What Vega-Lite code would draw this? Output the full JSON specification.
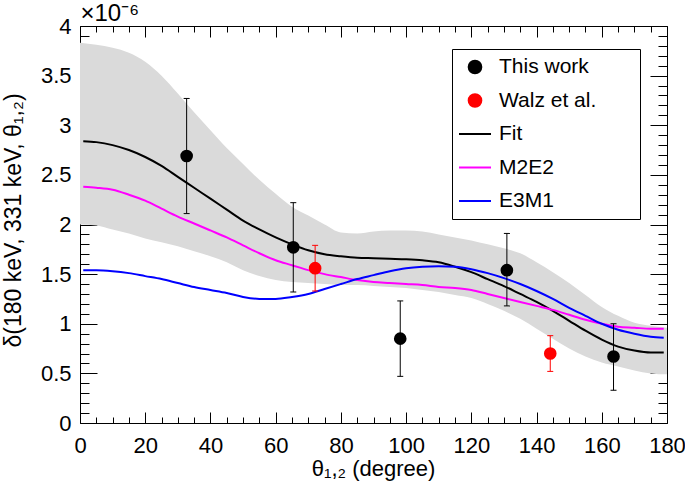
{
  "$schema": "https://vega.github.io/schema/vega-lite/v6.json",
  "width": 587,
  "height": 397,
  "autosize": {"type": "none"},
  "padding": {"left": 80, "top": 26, "right": 18, "bottom": 67},
  "background": "white",
  "config": {
    "view": {"stroke": "black", "strokeWidth": 1},
    "axis": {"domain": false, "grid": false, "tickColor": "black", "tickWidth": 1, "labelFont": "Liberation Sans", "labelFontSize": 22, "labelColor": "black", "titleFont": "Liberation Sans", "titleFontSize": 22, "titleFontWeight": "normal", "titleColor": "black", "labelFlush": false, "labelOverlap": false}
  },
  "datasets": {
    "band": [
      {"theta": 0, "lo": 2.00, "hi": 3.83}, {"theta": 5, "lo": 1.99, "hi": 3.81}, {"theta": 10, "lo": 1.95, "hi": 3.78},
      {"theta": 15, "lo": 1.91, "hi": 3.73}, {"theta": 20, "lo": 1.86, "hi": 3.64}, {"theta": 25, "lo": 1.82, "hi": 3.50},
      {"theta": 30, "lo": 1.78, "hi": 3.32}, {"theta": 35, "lo": 1.73, "hi": 3.13}, {"theta": 40, "lo": 1.68, "hi": 2.95},
      {"theta": 45, "lo": 1.62, "hi": 2.77}, {"theta": 50, "lo": 1.54, "hi": 2.61}, {"theta": 55, "lo": 1.48, "hi": 2.45},
      {"theta": 60, "lo": 1.44, "hi": 2.31}, {"theta": 65, "lo": 1.42, "hi": 2.18}, {"theta": 70, "lo": 1.41, "hi": 2.09},
      {"theta": 75, "lo": 1.40, "hi": 2.00}, {"theta": 80, "lo": 1.39, "hi": 1.92}, {"theta": 85, "lo": 1.39, "hi": 1.91},
      {"theta": 90, "lo": 1.38, "hi": 1.93}, {"theta": 95, "lo": 1.37, "hi": 1.94}, {"theta": 100, "lo": 1.36, "hi": 1.94},
      {"theta": 105, "lo": 1.34, "hi": 1.93}, {"theta": 110, "lo": 1.32, "hi": 1.90}, {"theta": 115, "lo": 1.29, "hi": 1.87},
      {"theta": 120, "lo": 1.26, "hi": 1.84}, {"theta": 125, "lo": 1.20, "hi": 1.80}, {"theta": 130, "lo": 1.13, "hi": 1.76},
      {"theta": 135, "lo": 1.05, "hi": 1.71}, {"theta": 140, "lo": 0.95, "hi": 1.62}, {"theta": 145, "lo": 0.85, "hi": 1.52},
      {"theta": 150, "lo": 0.75, "hi": 1.41}, {"theta": 155, "lo": 0.67, "hi": 1.29}, {"theta": 160, "lo": 0.61, "hi": 1.17},
      {"theta": 165, "lo": 0.57, "hi": 1.08}, {"theta": 170, "lo": 0.53, "hi": 1.01}, {"theta": 175, "lo": 0.50, "hi": 0.98},
      {"theta": 180, "lo": 0.49, "hi": 0.96}
    ],
    "curves": [
      {"series": "Fit", "theta": 1, "val": 2.84}, {"series": "Fit", "theta": 5, "val": 2.83}, {"series": "Fit", "theta": 10, "val": 2.80},
      {"series": "Fit", "theta": 15, "val": 2.75}, {"series": "Fit", "theta": 20, "val": 2.68}, {"series": "Fit", "theta": 25, "val": 2.59},
      {"series": "Fit", "theta": 30, "val": 2.48}, {"series": "Fit", "theta": 35, "val": 2.37}, {"series": "Fit", "theta": 40, "val": 2.26},
      {"series": "Fit", "theta": 45, "val": 2.15}, {"series": "Fit", "theta": 50, "val": 2.04}, {"series": "Fit", "theta": 55, "val": 1.95},
      {"series": "Fit", "theta": 60, "val": 1.87}, {"series": "Fit", "theta": 65, "val": 1.80}, {"series": "Fit", "theta": 70, "val": 1.74},
      {"series": "Fit", "theta": 75, "val": 1.70}, {"series": "Fit", "theta": 80, "val": 1.68}, {"series": "Fit", "theta": 85, "val": 1.665},
      {"series": "Fit", "theta": 90, "val": 1.66}, {"series": "Fit", "theta": 95, "val": 1.655}, {"series": "Fit", "theta": 100, "val": 1.65},
      {"series": "Fit", "theta": 105, "val": 1.64}, {"series": "Fit", "theta": 110, "val": 1.62}, {"series": "Fit", "theta": 115, "val": 1.575},
      {"series": "Fit", "theta": 120, "val": 1.52}, {"series": "Fit", "theta": 125, "val": 1.45}, {"series": "Fit", "theta": 130, "val": 1.38},
      {"series": "Fit", "theta": 135, "val": 1.30}, {"series": "Fit", "theta": 140, "val": 1.22}, {"series": "Fit", "theta": 145, "val": 1.13},
      {"series": "Fit", "theta": 150, "val": 1.03}, {"series": "Fit", "theta": 155, "val": 0.93}, {"series": "Fit", "theta": 160, "val": 0.84},
      {"series": "Fit", "theta": 165, "val": 0.77}, {"series": "Fit", "theta": 170, "val": 0.73}, {"series": "Fit", "theta": 175, "val": 0.71},
      {"series": "Fit", "theta": 179, "val": 0.71},
      {"series": "M2E2", "theta": 1, "val": 2.38}, {"series": "M2E2", "theta": 5, "val": 2.37}, {"series": "M2E2", "theta": 10, "val": 2.35},
      {"series": "M2E2", "theta": 15, "val": 2.30}, {"series": "M2E2", "theta": 20, "val": 2.24}, {"series": "M2E2", "theta": 25, "val": 2.16},
      {"series": "M2E2", "theta": 30, "val": 2.08}, {"series": "M2E2", "theta": 35, "val": 2.01}, {"series": "M2E2", "theta": 40, "val": 1.94},
      {"series": "M2E2", "theta": 45, "val": 1.87}, {"series": "M2E2", "theta": 50, "val": 1.79}, {"series": "M2E2", "theta": 55, "val": 1.71},
      {"series": "M2E2", "theta": 60, "val": 1.64}, {"series": "M2E2", "theta": 65, "val": 1.59}, {"series": "M2E2", "theta": 70, "val": 1.54},
      {"series": "M2E2", "theta": 75, "val": 1.50}, {"series": "M2E2", "theta": 80, "val": 1.47}, {"series": "M2E2", "theta": 85, "val": 1.44},
      {"series": "M2E2", "theta": 90, "val": 1.42}, {"series": "M2E2", "theta": 95, "val": 1.41}, {"series": "M2E2", "theta": 100, "val": 1.40},
      {"series": "M2E2", "theta": 105, "val": 1.39}, {"series": "M2E2", "theta": 110, "val": 1.37}, {"series": "M2E2", "theta": 115, "val": 1.36},
      {"series": "M2E2", "theta": 120, "val": 1.34}, {"series": "M2E2", "theta": 125, "val": 1.30}, {"series": "M2E2", "theta": 130, "val": 1.26},
      {"series": "M2E2", "theta": 135, "val": 1.22}, {"series": "M2E2", "theta": 140, "val": 1.18}, {"series": "M2E2", "theta": 145, "val": 1.14},
      {"series": "M2E2", "theta": 150, "val": 1.09}, {"series": "M2E2", "theta": 155, "val": 1.04}, {"series": "M2E2", "theta": 160, "val": 1.00},
      {"series": "M2E2", "theta": 165, "val": 0.97}, {"series": "M2E2", "theta": 170, "val": 0.96}, {"series": "M2E2", "theta": 175, "val": 0.95},
      {"series": "M2E2", "theta": 179, "val": 0.95},
      {"series": "E3M1", "theta": 1, "val": 1.54}, {"series": "E3M1", "theta": 5, "val": 1.54}, {"series": "E3M1", "theta": 10, "val": 1.53},
      {"series": "E3M1", "theta": 15, "val": 1.51}, {"series": "E3M1", "theta": 20, "val": 1.48}, {"series": "E3M1", "theta": 25, "val": 1.45},
      {"series": "E3M1", "theta": 30, "val": 1.41}, {"series": "E3M1", "theta": 35, "val": 1.37}, {"series": "E3M1", "theta": 40, "val": 1.34},
      {"series": "E3M1", "theta": 45, "val": 1.31}, {"series": "E3M1", "theta": 50, "val": 1.27}, {"series": "E3M1", "theta": 55, "val": 1.25},
      {"series": "E3M1", "theta": 60, "val": 1.25}, {"series": "E3M1", "theta": 65, "val": 1.27}, {"series": "E3M1", "theta": 70, "val": 1.30},
      {"series": "E3M1", "theta": 75, "val": 1.35}, {"series": "E3M1", "theta": 80, "val": 1.40}, {"series": "E3M1", "theta": 85, "val": 1.45},
      {"series": "E3M1", "theta": 90, "val": 1.49}, {"series": "E3M1", "theta": 95, "val": 1.53}, {"series": "E3M1", "theta": 100, "val": 1.56},
      {"series": "E3M1", "theta": 105, "val": 1.575}, {"series": "E3M1", "theta": 110, "val": 1.58}, {"series": "E3M1", "theta": 115, "val": 1.575},
      {"series": "E3M1", "theta": 120, "val": 1.55}, {"series": "E3M1", "theta": 125, "val": 1.51}, {"series": "E3M1", "theta": 130, "val": 1.46},
      {"series": "E3M1", "theta": 135, "val": 1.40}, {"series": "E3M1", "theta": 140, "val": 1.33}, {"series": "E3M1", "theta": 145, "val": 1.25},
      {"series": "E3M1", "theta": 150, "val": 1.16}, {"series": "E3M1", "theta": 155, "val": 1.08}, {"series": "E3M1", "theta": 160, "val": 1.00},
      {"series": "E3M1", "theta": 165, "val": 0.94}, {"series": "E3M1", "theta": 170, "val": 0.90}, {"series": "E3M1", "theta": 175, "val": 0.87},
      {"series": "E3M1", "theta": 179, "val": 0.86}
    ],
    "pts": [
      {"series": "This work", "theta": 32.7, "val": 2.69, "lo": 2.11, "hi": 3.27},
      {"series": "This work", "theta": 65.4, "val": 1.77, "lo": 1.32, "hi": 2.22},
      {"series": "This work", "theta": 98.2, "val": 0.85, "lo": 0.47, "hi": 1.23},
      {"series": "This work", "theta": 130.9, "val": 1.54, "lo": 1.18, "hi": 1.91},
      {"series": "This work", "theta": 163.6, "val": 0.67, "lo": 0.33, "hi": 1.00},
      {"series": "Walz et al.", "theta": 72.1, "val": 1.56, "lo": 1.33, "hi": 1.79},
      {"series": "Walz et al.", "theta": 144.2, "val": 0.70, "lo": 0.52, "hi": 0.88}
    ]
  },
  "resolve": {"axis": {"x": "independent", "y": "independent"}},
  "layer": [
    {
      "data": {"name": "band"},
      "mark": {"type": "area", "fill": "#dadada", "opacity": 1, "interpolate": "monotone"},
      "encoding": {
        "x": {"field": "theta", "type": "quantitative", "scale": {"domain": [0, 180], "nice": false, "zero": false},
          "axis": {"orient": "bottom", "values": [0, 20, 40, 60, 80, 100, 120, 140, 160, 180], "tickSize": -11, "labelPadding": 23,
            "title": "θ₁,₂ (degree)", "titleX": 293, "titleY": 52, "titleAlign": "center", "titleBaseline": "alphabetic"}},
        "y": {"field": "lo", "type": "quantitative", "scale": {"domain": [0, 4], "nice": false, "zero": false},
          "axis": {"orient": "left", "values": [0, 0.5, 1, 1.5, 2, 2.5, 3, 3.5, 4], "tickSize": -17, "labelPadding": 26, "format": "~g",
            "title": "δ(180 keV, 331 keV, θ₁,₂)", "titleFontSize": 23, "titleX": -60, "titleY": 194, "titleAlign": "center", "titleBaseline": "alphabetic", "titleAngle": 270}},
        "y2": {"field": "hi"}
      }
    },
    {
      "data": {"name": "curves"},
      "mark": {"type": "line", "strokeWidth": 2, "interpolate": "monotone"},
      "encoding": {
        "x": {"field": "theta", "type": "quantitative", "scale": {"domain": [0, 180], "nice": false, "zero": false},
          "axis": {"orient": "bottom", "values": [5, 10, 15, 25, 30, 35, 45, 50, 55, 65, 70, 75, 85, 90, 95, 105, 110, 115, 125, 130, 135, 145, 150, 155, 165, 170, 175], "tickSize": -6, "labels": false, "title": null}},
        "y": {"field": "val", "type": "quantitative", "scale": {"domain": [0, 4], "nice": false, "zero": false},
          "axis": {"orient": "left", "values": [0.1, 0.2, 0.3, 0.4, 0.6, 0.7, 0.8, 0.9, 1.1, 1.2, 1.3, 1.4, 1.6, 1.7, 1.8, 1.9, 2.1, 2.2, 2.3, 2.4, 2.6, 2.7, 2.8, 2.9, 3.1, 3.2, 3.3, 3.4, 3.6, 3.7, 3.8, 3.9], "tickSize": -9, "labels": false, "title": null}},
        "color": {"field": "series", "type": "nominal",
          "scale": {"domain": ["This work", "Walz et al.", "Fit", "M2E2", "E3M1"], "range": ["black", "red", "black", "magenta", "blue"]},
          "legend": {"orient": "none", "legendX": 372, "legendY": 23, "title": null, "columns": 1, "clipHeight": 32, "rowPadding": 1.5,
            "padding": 2, "symbolOffset": 4, "labelOffset": 7, "symbolStrokeWidth": 2, "symbolOpacity": 1,
            "labelFont": "Liberation Sans", "labelFontSize": 21, "labelColor": "black", "labelLimit": 300,
            "labelExpr": "datum.label + '\u00a0\u00a0\u00a0\u00a0\u00a0\u00a0\u00a0\u200b'",
            "strokeColor": "black", "fillColor": "white"}}
      }
    },
    {
      "data": {"name": "pts"},
      "mark": {"type": "rule", "strokeWidth": 1, "opacity": 1},
      "encoding": {
        "x": {"field": "theta", "type": "quantitative", "scale": {"domain": [0, 180], "nice": false, "zero": false},
          "axis": {"orient": "top", "values": [0, 20, 40, 60, 80, 100, 120, 140, 160, 180], "tickSize": -11, "labels": false,
            "title": "×10⁻⁶", "titleFontSize": 24, "titleX": 0, "titleY": -6, "titleAlign": "left", "titleBaseline": "alphabetic", "titleAngle": 0}},
        "y": {"field": "lo", "type": "quantitative", "scale": {"domain": [0, 4], "nice": false, "zero": false},
          "axis": {"orient": "right", "values": [0, 0.5, 1, 1.5, 2, 2.5, 3, 3.5, 4], "tickSize": -17, "labels": false, "title": null}},
        "y2": {"field": "hi"},
        "color": {"field": "series", "type": "nominal"}
      }
    },
    {
      "data": {"name": "pts"},
      "mark": {"type": "tick", "orient": "horizontal", "size": 6, "thickness": 1, "opacity": 1},
      "encoding": {
        "x": {"field": "theta", "type": "quantitative", "scale": {"domain": [0, 180], "nice": false, "zero": false},
          "axis": {"orient": "top", "values": [5, 10, 15, 25, 30, 35, 45, 50, 55, 65, 70, 75, 85, 90, 95, 105, 110, 115, 125, 130, 135, 145, 150, 155, 165, 170, 175], "tickSize": -6, "labels": false, "title": null}},
        "y": {"field": "hi", "type": "quantitative", "scale": {"domain": [0, 4], "nice": false, "zero": false},
          "axis": {"orient": "right", "values": [0.1, 0.2, 0.3, 0.4, 0.6, 0.7, 0.8, 0.9, 1.1, 1.2, 1.3, 1.4, 1.6, 1.7, 1.8, 1.9, 2.1, 2.2, 2.3, 2.4, 2.6, 2.7, 2.8, 2.9, 3.1, 3.2, 3.3, 3.4, 3.6, 3.7, 3.8, 3.9], "tickSize": -9, "labels": false, "title": null}},
        "color": {"field": "series", "type": "nominal"}
      }
    },
    {
      "data": {"name": "pts"},
      "mark": {"type": "tick", "orient": "horizontal", "size": 6, "thickness": 1, "opacity": 1},
      "encoding": {
        "x": {"field": "theta", "type": "quantitative", "scale": {"domain": [0, 180], "nice": false, "zero": false}, "axis": null},
        "y": {"field": "lo", "type": "quantitative", "scale": {"domain": [0, 4], "nice": false, "zero": false}, "axis": null},
        "color": {"field": "series", "type": "nominal"}
      }
    },
    {
      "data": {"name": "pts"},
      "mark": {"type": "point", "filled": true, "opacity": 1},
      "encoding": {
        "x": {"field": "theta", "type": "quantitative", "scale": {"domain": [0, 180], "nice": false, "zero": false}, "axis": null},
        "y": {"field": "val", "type": "quantitative", "scale": {"domain": [0, 4], "nice": false, "zero": false}, "axis": null},
        "color": {"field": "series", "type": "nominal"},
        "shape": {"field": "series", "type": "nominal",
          "scale": {"domain": ["This work", "Walz et al.", "Fit", "M2E2", "E3M1"], "range": ["circle", "circle", "stroke", "stroke", "stroke"]},
          "legend": {"title": null, "labelExpr": "datum.label + '\u00a0\u00a0\u00a0\u00a0\u00a0\u00a0\u00a0\u200b'"}},
        "size": {"field": "series", "type": "nominal",
          "scale": {"type": "ordinal", "domain": ["This work", "Walz et al.", "Fit", "M2E2", "E3M1"], "range": [160, 160, 1024, 1024, 1024]},
          "legend": {"title": null, "labelExpr": "datum.label + '\u00a0\u00a0\u00a0\u00a0\u00a0\u00a0\u00a0\u200b'"}}
      }
    }
  ]
}
